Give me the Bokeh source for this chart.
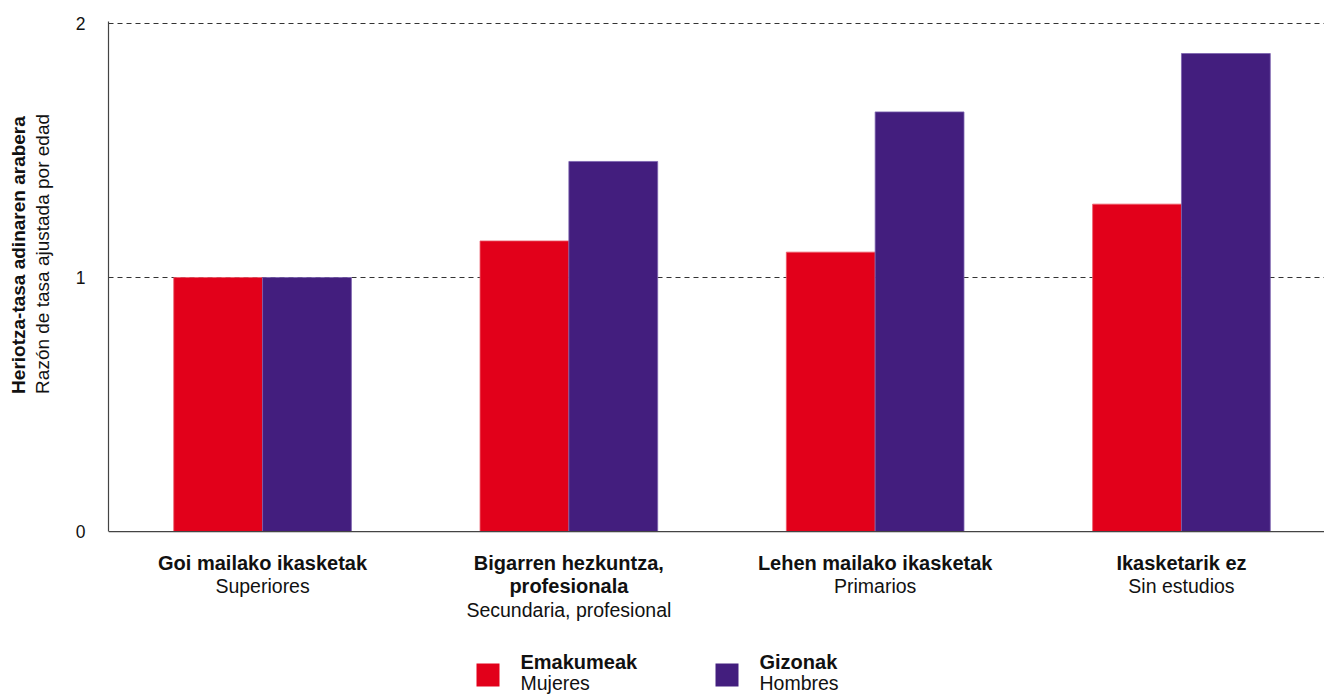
import numpy as np
from bokeh.plotting import figure
from bokeh.layouts import row
from bokeh.models import Range1d, FixedTicker, Label, BoxAnnotation, Span
from bokeh.embed import file_html
from bokeh.resources import INLINE

# Education levels (Basque name, Spanish name)
categories_eu = ["Goi mailako ikasketak", "Bigarren hezkuntza,\nprofesionala",
                 "Lehen mailako ikasketak", "Ikasketarik ez"]
categories_es = ["Superiores", "Secundaria, profesional", "Primarios", "Sin estudios"]

# Age-adjusted mortality rate ratios
women = [1.0, 1.144, 1.10, 1.289]
men = [1.0, 1.457, 1.652, 1.882]

series_eu = ["Emakumeak", "Gizonak"]
series_es = ["Mujeres", "Hombres"]
series_colors = ["#E2001A", "#431E7E"]
series_edges = ["#EC5A6A", "#7B62AE"]

y_ticks = [0, 1, 2]
y_title_eu = "Heriotza-tasa adinaren arabera"
y_title_es = "Razón de tasa ajustada por edad"

FONT = "Liberation Sans"
TXT = "#111111"
AXIS = "#444444"

W, H = 1324, 695
TITLE_W = 60                      # strip holding the rotated axis title
LEFT, TOP = 108, 21               # frame edges on the page
Y_PX = 254.0                      # pixels per unit of the rate ratio
Y_END = 2.008
Y_START = Y_END - (H - TOP) / Y_PX   # frame runs down to the page bottom

# ---- axis title strip -------------------------------------------------------
t = figure(width=TITLE_W, height=H, x_range=Range1d(0, TITLE_W), y_range=Range1d(0, H),
           x_axis_location=None, y_axis_location=None,
           output_backend="svg", toolbar_location=None,
           min_border_left=0, min_border_right=0, min_border_top=0, min_border_bottom=0)
t.outline_line_color = None
t.grid.visible = False
for xb, txt, style in [(18, y_title_eu, "bold"), (41.5, y_title_es, "normal")]:
    t.add_layout(Label(x=xb, y=H - 384, text=txt, angle=np.pi / 2,
                       text_align="left", text_baseline="alphabetic",
                       text_font=FONT, text_font_style=style,
                       text_font_size="19px", text_color=TXT))

# ---- chart ------------------------------------------------------------------
p = figure(width=W - TITLE_W, height=H,
           x_range=Range1d(-0.003, 3.967), y_range=Range1d(Y_START, Y_END),
           x_axis_location=None,
           output_backend="svg", toolbar_location=None,
           min_border_left=LEFT - TITLE_W, min_border_right=0,
           min_border_top=TOP, min_border_bottom=0)
p.outline_line_color = None
p.background_fill_color = "white"
p.border_fill_color = "white"

# Bars: women left of each category centre, men right of it
bar_w = 0.29
centres = np.arange(len(categories_eu)) + 0.5
for vals, offs, col, edge in [(women, -bar_w / 2, series_colors[0], series_edges[0]),
                              (men, bar_w / 2, series_colors[1], series_edges[1])]:
    p.vbar(x=centres + offs, top=vals, bottom=0, width=bar_w,
           fill_color=col, line_color=edge, line_width=0.8)

# Baseline at zero
p.add_layout(Span(location=0, dimension="width", line_color=AXIS, line_width=1.2))

# Value axis
p.yaxis.ticker = FixedTicker(ticks=y_ticks)
p.yaxis.bounds = (0, Y_END)
p.yaxis.major_tick_line_color = None
p.yaxis.minor_tick_line_color = None
p.yaxis.major_tick_out = 0
p.yaxis.major_tick_in = 0
p.yaxis.axis_line_color = AXIS
p.yaxis.axis_line_width = 1.2
p.yaxis.major_label_standoff = 23
p.yaxis.major_label_text_font = FONT
p.yaxis.major_label_text_font_size = "17.5px"
p.yaxis.major_label_text_color = TXT

p.xgrid.grid_line_color = None
p.ygrid.ticker = FixedTicker(ticks=[1, 2])
p.ygrid.grid_line_color = "#333333"
p.ygrid.grid_line_dash = "5 4"
p.ygrid.grid_line_width = 1


def sy(page_y):
    """Screen offset from the frame bottom for a page row."""
    return H - page_y


# Category labels under the baseline: bold Basque lines, then the Spanish line
LINE = 23.8
FIRST = 562
for c, eu, es in zip(centres, categories_eu, categories_es):
    lines = eu.split("\n")
    for k, ln in enumerate(lines):
        p.add_layout(Label(x=c, y=sy(FIRST + k * LINE), x_units="data", y_units="screen",
                           text=ln, text_align="center", text_baseline="alphabetic",
                           text_font=FONT, text_font_style="bold",
                           text_font_size="20px", text_color=TXT))
    p.add_layout(Label(x=c, y=sy(FIRST + len(lines) * LINE), x_units="data", y_units="screen",
                       text=es, text_align="center", text_baseline="alphabetic",
                       text_font=FONT, text_font_size="19.5px", text_color=TXT))

# Legend: coloured squares with two-line labels
legend_x = [476, 715]
for lx, name_eu, name_es, col in zip(legend_x, series_eu, series_es, series_colors):
    p.add_layout(BoxAnnotation(left=lx - LEFT, right=lx - LEFT + 23,
                               top=sy(663), bottom=sy(686),
                               left_units="screen", right_units="screen",
                               top_units="screen", bottom_units="screen",
                               fill_color=col, fill_alpha=1, line_color=None))
    p.add_layout(Label(x=lx - LEFT + 44, y=sy(661.5), x_units="screen", y_units="screen",
                       text=name_eu, text_baseline="alphabetic", text_font=FONT,
                       text_font_style="bold", text_font_size="20px", text_color=TXT))
    p.add_layout(Label(x=lx - LEFT + 44, y=sy(682.5), x_units="screen", y_units="screen",
                       text=name_es, text_baseline="alphabetic", text_font=FONT,
                       text_font_size="19.5px", text_color=TXT))

layout = row(t, p, spacing=0)
open("out.html", "w").write(file_html(layout, INLINE))
